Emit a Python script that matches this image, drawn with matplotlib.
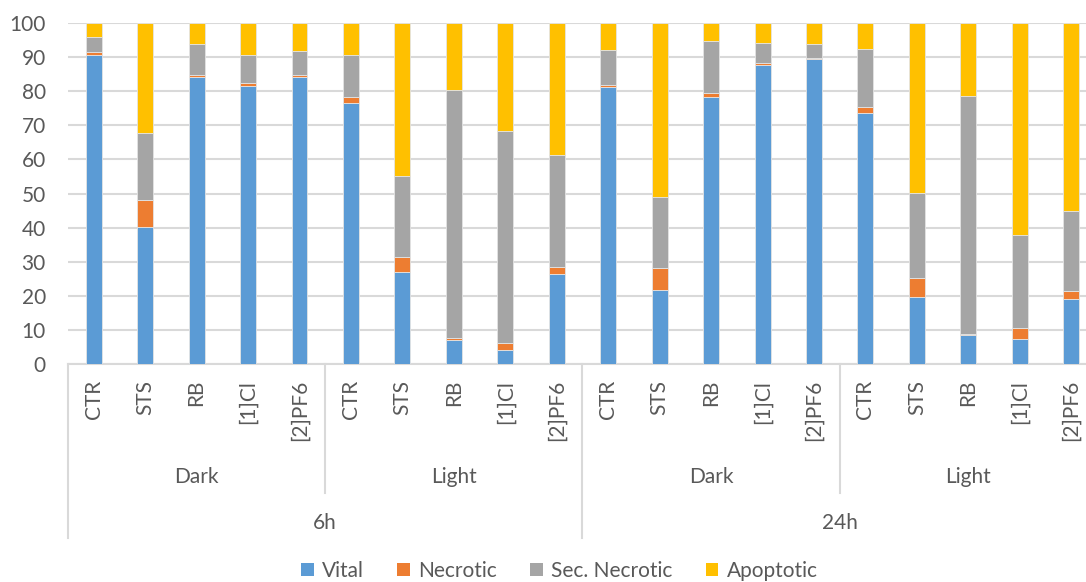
import matplotlib.pyplot as plt
import matplotlib.transforms as mtransforms
from matplotlib.patches import Patch
import numpy as np

plt.rcParams['font.family'] = ['Lato', 'DejaVu Sans']

compounds = ["CTR", "STS", "RB", "[1]Cl", "[2]PF6"]
conditions = ["Dark", "Light", "Dark", "Light"]
times = ["6h", "24h"]
series_names = ["Vital", "Necrotic", "Sec. Necrotic", "Apoptotic"]
colors = ["#5B9BD5", "#ED7D31", "#A5A5A5", "#FFC000"]

vital = [90.7, 40.2, 84.2, 81.6, 84.2,
         76.6, 27.1, 7.1, 4.2, 26.4,
         81.4, 21.8, 78.2, 87.6, 89.4,
         73.6, 19.6, 8.4, 7.4, 19.2]
necrotic = [0.7, 8.0, 0.7, 0.8, 0.5,
            1.6, 4.2, 0.5, 1.9, 2.1,
            0.5, 6.5, 1.2, 0.8, 0.5,
            1.7, 5.7, 0.4, 3.2, 2.3]
sec_necrotic = [4.5, 19.5, 9.1, 8.3, 7.0,
                12.4, 24.0, 72.8, 62.3, 32.8,
                10.3, 20.6, 15.4, 5.9, 4.1,
                17.2, 25.0, 69.8, 27.3, 23.3]
apoptotic = [4.1, 32.3, 6.0, 9.3, 8.3,
             9.4, 44.7, 19.6, 31.6, 38.7,
             7.8, 51.1, 5.2, 5.7, 6.0,
             7.5, 49.7, 21.4, 62.1, 55.2]

grey = "#595959"
line_c = "#D9D9D9"
fs = 15

fig = plt.figure(figsize=(10.86, 5.82), dpi=100)
# plot area runs a little past the right edge of the image, as in the reference
ax = fig.add_axes([0.0626, 0.3746, 0.9475, 0.5856])

n = len(vital)
x = np.arange(n)
bottom = np.zeros(n)
for name, vals, c in zip(series_names, [vital, necrotic, sec_necrotic, apoptotic], colors):
    vals = np.array(vals)
    ax.bar(x, vals, 0.31, bottom=bottom, color=c, edgecolor="#e4e4e4", linewidth=0.6, label=name, zorder=3)
    bottom += vals

ax.set_xlim(-0.5, n - 0.5)
ax.set_ylim(0, 100)
ax.set_yticks(range(0, 101, 10))
ax.yaxis.grid(True, color=line_c, linewidth=1.5, zorder=0)
ax.set_xticks([])
ax.tick_params(axis='y', length=0, pad=16, labelsize=fs, labelcolor=grey)
for s in ["left", "right", "top"]:
    ax.spines[s].set_visible(False)
ax.spines["bottom"].set_color(line_c)
ax.spines["bottom"].set_linewidth(1.5)

# multi-level category axis
trans = mtransforms.blended_transform_factory(ax.transData, ax.transAxes)
for i in range(n):
    ax.text(i, -0.047, compounds[i % 5], transform=trans, rotation=90, ha="center", va="top",
            fontsize=fs, color=grey)
for j, cond in enumerate(conditions):
    ax.text(j * 5 + 2, -0.331, cond, transform=trans, ha="center", va="center", fontsize=fs, color=grey)
for j, t in enumerate(times):
    ax.text(j * 10 + 4.5, -0.466, t, transform=trans, ha="center", va="center", fontsize=fs, color=grey)
for xb in [4.5, 14.5]:
    ax.plot([xb, xb], [0, -0.378], transform=trans, color=line_c, linewidth=1.5, clip_on=False)
for xb in [-0.5, 9.5, 19.5]:
    ax.plot([xb, xb], [0, -0.510], transform=trans, color=line_c, linewidth=1.5, clip_on=False)

handles = [Patch(facecolor=c, label=nm) for nm, c in zip(series_names, colors)]
leg = fig.legend(handles=handles, loc="lower center", bbox_to_anchor=(0.515, -0.03), ncol=4,
                 frameon=False, fontsize=fs, handlelength=0.6, handleheight=0.6,
                 handletextpad=0.4, columnspacing=1.6)
for t in leg.get_texts():
    t.set_color(grey)

fig.savefig("out.png", dpi=100)
